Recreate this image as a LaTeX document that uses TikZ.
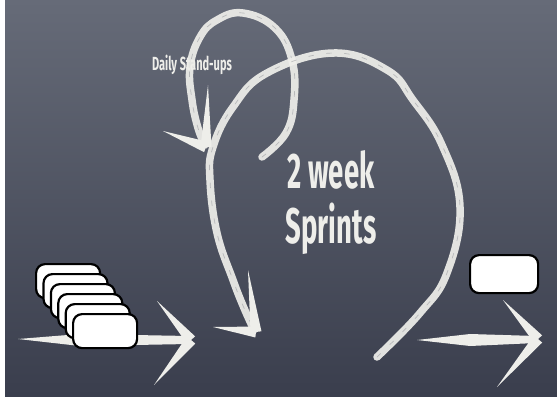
\documentclass[tikz,border=0pt]{standalone}
\usepackage{fontspec}
\setmainfont{Fira Sans}
\usetikzlibrary{calc}
\definecolor{boardtop}{RGB}{102,107,120}
\definecolor{boardbot}{RGB}{58,62,77}
\definecolor{chalk}{RGB}{238,238,234}
\newcommand{\chalkbarb}[2]{\fill[chalk] (#1) -- ($(#2)!5.5pt!90:(#1)$) -- ($(#2)!5.5pt!-90:(#1)$) -- cycle;}
\begin{document}
\begin{tikzpicture}[x=1pt, y=-1pt, >=stealth,
		chalkline/.style={draw=chalk, line width=7.5pt, line cap=round, line join=round, opacity=.93,
			postaction={draw=boardbot, line width=.7pt, dash pattern=on 5pt off 13pt, opacity=.25}},
		card/.style={draw=black, line width=2.2pt, fill=white, rounded corners=9pt, minimum width=64pt, minimum height=34pt, inner sep=0pt},
		boardtext/.style={text=chalk, inner sep=0pt, anchor=base}]
				\useasboundingbox (0,0) rectangle (557,399);
				\fill[white] (0,0) rectangle (557,399);
				\shade[top color=boardtop, bottom color=boardbot] (5,0) rectangle (557,396);
				\coordinate (inS) at (18,339);
				\coordinate (inT) at (191,340);
				\coordinate (outS) at (417,340);
				\coordinate (outT) at (538,339);
				\fill[chalk] (inS) -- (80,334) -- (189,336) -- (189,344) -- (80,346) -- cycle;
				\foreach \i in {0,...,5}
					\node[card, anchor=north west] (c\i) at ({35+7.4*\i},{263+10*\i}) {};
				\chalkbarb{157,301}{inT}
				\chalkbarb{154,385}{inT}
				\node[boardtext] (daily) at (192,70) {\scalebox{0.58}[1]{\fontsize{19}{22}\selectfont\bfseries Daily Stand-ups}};
				\draw[chalkline] plot[smooth, tension=0.7] coordinates {(262,157) (286,133) (294,100) (292,60) (275,28) (243,13) (217,20) (200,37) (190,67) (192,100) (198,128) (205,145)};
				\coordinate (dayT) at (206,147);
				\chalkbarb{208,85}{dayT}
				\chalkbarb{163,131}{dayT}
				\node[boardtext] (week) at (331,188) {\scalebox{0.55}[1]{\fontsize{50}{56}\selectfont\bfseries 2 week}};
				\node[boardtext] (sprints) at (331,243) {\scalebox{0.55}[1]{\fontsize{50}{56}\selectfont\bfseries Sprints}};
				\draw[chalkline] plot[smooth, tension=0.7] coordinates {(377,357) (420,313) (447,273) (460,207) (442,145) (413,100) (387,70) (333,53) (267,73) (233,107) (213,147) (210,180) (217,233) (233,280) (244,308) (254,330)};
				\coordinate (sprT) at (256,332);
				\chalkbarb{248,270}{sprT}
				\chalkbarb{213,327}{sprT}
				\fill[chalk] (outS) -- (470,334) -- (536,336) -- (536,343) -- (470,346) -- cycle;
				\chalkbarb{503,300}{outT}
				\chalkbarb{497,387}{outT}
				\node[card, minimum width=68pt, minimum height=38pt, anchor=north west] (done) at (469,254) {};
			\end{tikzpicture}
\end{document}
